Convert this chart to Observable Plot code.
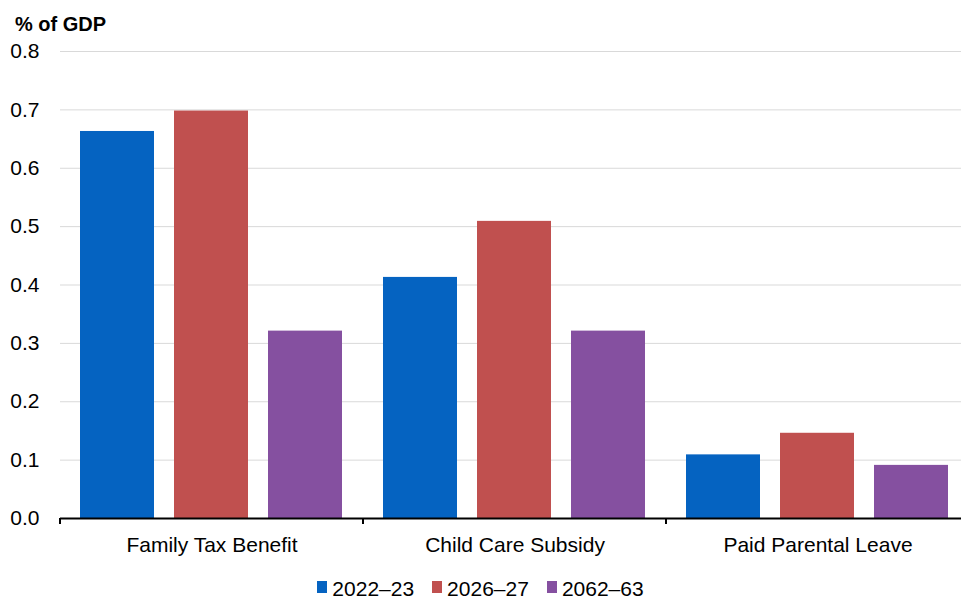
<!DOCTYPE html>
<html>
<head>
<meta charset="utf-8">
<script src="https://cdn.jsdelivr.net/npm/d3@7"></script>
<script src="https://cdn.jsdelivr.net/npm/@observablehq/plot@0.6"></script>
<style>
  html, body { margin: 0; padding: 0; background: #fff; overflow: hidden; }
  body { font-family: "Liberation Sans", Arial, sans-serif; width: 961px; height: 599px; position: relative; }
  #title { position: absolute; left: 15px; top: 14px; font-size: 20px; line-height: 20px; font-weight: bold; color: #000; }
  #chart { position: absolute; left: 0; top: 0; width: 970px; }
  #legend { position: absolute; left: 0; width: 961px; top: 578px; display: flex; justify-content: center; font-size: 21px; line-height: 21px; color: #000; }
  .item { display: flex; align-items: flex-start; margin: 0 9px; }
  .sw { width: 10px; height: 12px; margin-top: 3px; margin-right: 5px; }
</style>
</head>
<body>
<div id="chart"></div>
<div id="title">% of GDP</div>
<div id="legend"></div>
<script>
const categories = ["Family Tax Benefit", "Child Care Subsidy", "Paid Parental Leave"];
const seriesNames = ["2022–23", "2026–27", "2062–63"];
const values2022 = [0.663, 0.413, 0.109];
const values2026 = [0.698, 0.509, 0.146];
const values2062 = [0.321, 0.321, 0.091];
const colors = ["#0563C1", "#C0504F", "#8550A0"];
const yTicks = [0, 0.1, 0.2, 0.3, 0.4, 0.5, 0.6, 0.7, 0.8];

const seriesValues = [values2022, values2026, values2062];
const data = [];
categories.forEach((c, i) => {
  seriesNames.forEach((s, j) => data.push({category: c, series: s, value: seriesValues[j][i]}));
});

const plot = Plot.plot({
  width: 970,
  height: 565,
  marginTop: 51,
  marginBottom: 47,
  marginLeft: 59,
  marginRight: 1,
  style: {fontFamily: "'Liberation Sans', Arial, sans-serif", fontSize: "21px", color: "#000", background: "transparent", maxWidth: "none"},
  fx: {domain: categories, padding: 0, label: null},
  x: {domain: seriesNames, paddingInner: 0.21, paddingOuter: 0.2, axis: null},
  y: {domain: [0, 0.8], label: null},
  color: {domain: seriesNames, range: colors},
  marks: [
    Plot.gridY(yTicks, {stroke: "#d9d9d9", strokeOpacity: 1, strokeWidth: 1}),
    Plot.axisY(yTicks, {tickSize: 0, tickPadding: 21, tickFormat: d3.format(".1f"), label: null, fontSize: 21}),
    Plot.barY(data, {fx: "category", x: "series", y: "value", fill: "series"}),
    Plot.ruleY([0], {stroke: "#000", strokeWidth: 2}),
    Plot.axisFx({anchor: "bottom", tickSize: 0, tickPadding: 19, label: null, fontSize: 21})
  ]
});
plot.style.maxWidth = "none";
document.getElementById("chart").appendChild(plot);

// boundary ticks between category groups, from the fx scale
const fx = plot.scale("fx");
const y = plot.scale("y");
const y0 = y.apply(0);
const bounds = categories.map(c => fx.apply(c));
bounds.push(fx.apply(categories[categories.length - 1]) + fx.bandwidth);
d3.select(plot).append("g").selectAll("line").data(bounds).join("line")
  .attr("x1", d => d).attr("x2", d => d)
  .attr("y1", y0).attr("y2", y0 + 6)
  .attr("stroke", "#000").attr("stroke-width", 2);

// legend
const legend = d3.select("#legend");
seriesNames.forEach((s, i) => {
  const it = legend.append("div").attr("class", "item");
  it.append("div").attr("class", "sw").style("background", colors[i]);
  it.append("span").text(s);
});
</script>
</body>
</html>
